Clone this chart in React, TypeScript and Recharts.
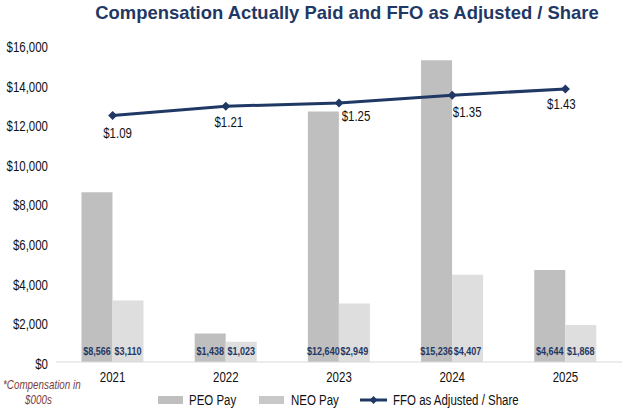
import React from 'react';
import {
  ComposedChart,
  Bar,
  Line,
  XAxis,
  YAxis,
  Legend,
  LabelList
} from 'recharts';

const years = ['2021', '2022', '2023', '2024', '2025'];
const peoPay = [8566, 1438, 12640, 15236, 4644];
const neoPay = [3110, 1023, 2949, 4407, 1868];
const ffoPerShare = [1.09, 1.21, 1.25, 1.35, 1.43];
const yTicks = [0, 2000, 4000, 6000, 8000, 10000, 12000, 14000, 16000];

const NAVY = '#1f3864';
const PEO_GRAY = '#bfbfbf';
const NEO_GRAY = '#dedede';
const FONT = "'Liberation Sans', Arial, sans-serif";
// no Arial Narrow here, so squeeze Liberation Sans instead
const NARROW = 0.82;

// hand-placed label nudges (dx, dy from the point), as in the original deck
const ffoLabelNudge: [number, number][] = [
  [5, 17],
  [3, 16],
  [17, 13],
  [15, 17],
  [-4, 15]
];

const data = years.map((year, i) => ({
  year,
  peo: peoPay[i],
  neo: neoPay[i],
  ffo: ffoPerShare[i]
}));

const money = (v: number) => '$' + v.toLocaleString('en-US');

const NarrowText = ({ x, y, anchor = 'middle', size = 14, weight = 'normal', fill = '#111', baseline, style, children }: any) => (
  <text
    transform={`translate(${x},${y}) scale(${NARROW},1)`}
    textAnchor={anchor}
    dominantBaseline={baseline}
    fill={fill}
    fontSize={size}
    fontWeight={weight}
    fontFamily={FONT}
    style={style}
  >
    {children}
  </text>
);

const YTick = (props: any) => {
  const { x, y, payload } = props;
  return (
    <NarrowText x={x} y={y + 2} anchor="end" baseline="central">
      {money(payload.value)}
    </NarrowText>
  );
};

const XTick = (props: any) => {
  const { x, y, payload } = props;
  return (
    <NarrowText x={x} y={y + 7} baseline="central">
      {payload.value}
    </NarrowText>
  );
};

const BarValue = (props: any) => {
  const { x, y, width, height, value } = props;
  return (
    <NarrowText x={x + width / 2} y={y + height - 11} size={11} weight="bold" fill={NAVY} baseline="central">
      {money(value)}
    </NarrowText>
  );
};

const FfoValue = (props: any) => {
  const { x, y, index, value } = props;
  const [dx, dy] = ffoLabelNudge[index] || [0, 15];
  return (
    <NarrowText x={x + dx} y={y + dy} baseline="central">
      {'$' + Number(value).toFixed(2)}
    </NarrowText>
  );
};

const Diamond = (props: any) => {
  const { cx, cy } = props;
  if (cx == null || cy == null) return null;
  const r = 4.5;
  return (
    <polygon
      points={`${cx},${cy - r} ${cx + r},${cy} ${cx},${cy + r} ${cx - r},${cy}`}
      fill={NAVY}
    />
  );
};

const ChartLegend = () => (
  <svg width={640} height={24} style={{ display: 'block' }}>
    <rect x={158} y={8} width={25} height={8} fill={PEO_GRAY} />
    <NarrowText x={189} y={12} anchor="start" baseline="central">PEO Pay</NarrowText>
    <rect x={259} y={8} width={25} height={8} fill="#c8c8c8" />
    <NarrowText x={291} y={12} anchor="start" baseline="central">NEO Pay</NarrowText>
    <line x1={360} y1={12} x2={387} y2={12} stroke={NAVY} strokeWidth={3} />
    <polygon points="373.5,8 377.5,12 373.5,16 369.5,12" fill={NAVY} />
    <NarrowText x={393} y={12} anchor="start" baseline="central">FFO as Adjusted / Share</NarrowText>
  </svg>
);

export default function App() {
  return (
    <div
      style={{
        position: 'absolute',
        left: 0,
        top: 0,
        width: 640,
        height: 412,
        background: '#fff',
        fontFamily: FONT
      }}
    >
      <div
        style={{
          position: 'absolute',
          top: 1,
          left: 347,
          whiteSpace: 'nowrap',
          transform: 'translateX(-50%) scaleX(0.97)',
          fontFamily: FONT,
          fontWeight: 'bold',
          fontSize: 19,
          lineHeight: '24px',
          color: NAVY
        }}
      >
        Compensation Actually Paid and FFO as Adjusted / Share
      </div>

      <ComposedChart
        width={640}
        height={412}
        data={data}
        margin={{ top: 45, right: 18, left: 0, bottom: 0 }}
        barCategoryGap="22.5%"
        barGap={0}
      >
        <XAxis
          dataKey="year"
          height={26}
          tickLine={false}
          axisLine={{ stroke: '#d9d9d9' }}
          tick={<XTick />}
        />
        <YAxis
          yAxisId="pay"
          width={56}
          domain={[0, 16000]}
          ticks={yTicks}
          interval={0}
          tickLine={false}
          axisLine={false}
          tick={<YTick />}
        />
        <YAxis
          yAxisId="ffo"
          orientation="right"
          hide
          domain={[-2.05, 1.99]}
          allowDataOverflow
        />
        <Legend verticalAlign="bottom" content={() => <ChartLegend />} />
        <Bar yAxisId="pay" dataKey="peo" name="PEO Pay" fill={PEO_GRAY} isAnimationActive={false}>
          <LabelList dataKey="peo" content={BarValue} />
        </Bar>
        <Bar yAxisId="pay" dataKey="neo" name="NEO Pay" fill={NEO_GRAY} isAnimationActive={false}>
          <LabelList dataKey="neo" content={BarValue} />
        </Bar>
        <Line
          yAxisId="ffo"
          type="linear"
          dataKey="ffo"
          name="FFO as Adjusted / Share"
          stroke={NAVY}
          strokeWidth={3}
          dot={<Diamond />}
          activeDot={false}
          isAnimationActive={false}
        >
          <LabelList dataKey="ffo" content={FfoValue} />
        </Line>
      </ComposedChart>

      <svg width={90} height={40} style={{ position: 'absolute', left: 0, top: 372 }}>
        <NarrowText x={3} y={13} size={12} anchor="start" fill="#7b3b3b" baseline="central" style={{ fontStyle: 'italic' }}>
          *Compensation in
        </NarrowText>
        <NarrowText x={25} y={28} size={12} anchor="start" fill="#7b3b3b" baseline="central" style={{ fontStyle: 'italic' }}>
          $000s
        </NarrowText>
      </svg>
    </div>
  );
}
